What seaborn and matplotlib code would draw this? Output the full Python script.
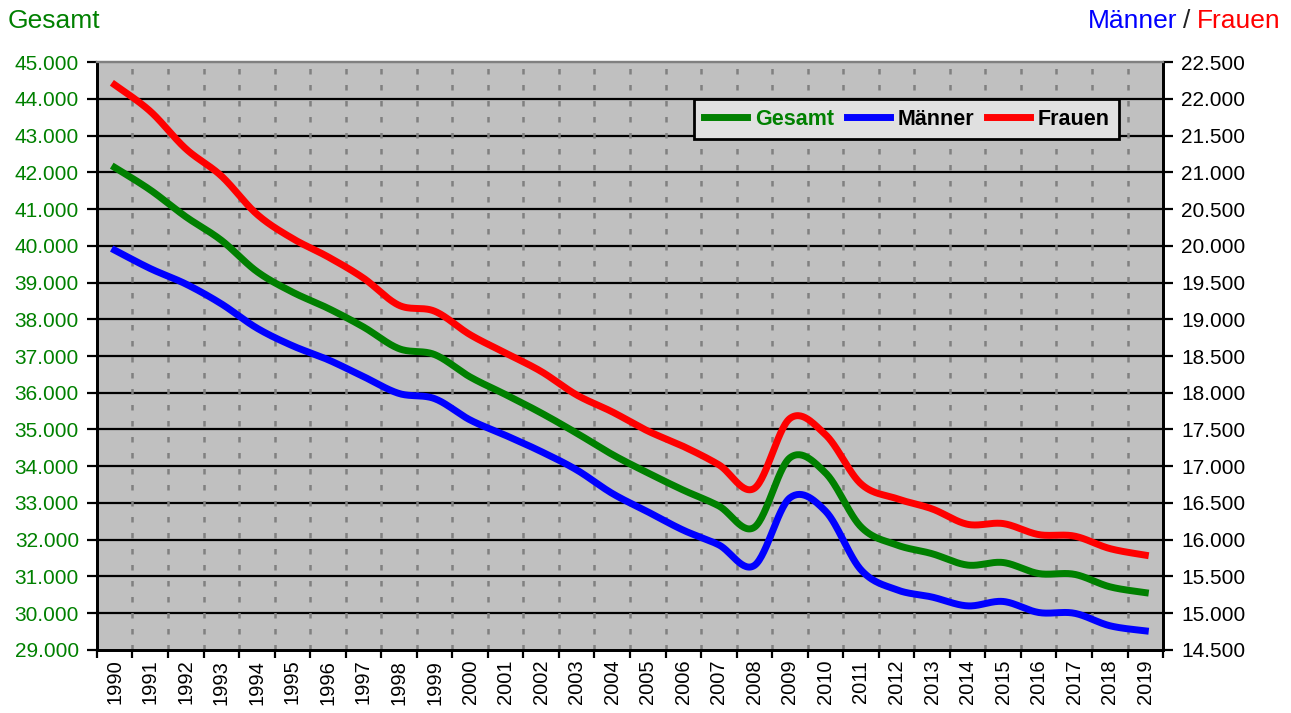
import numpy as np
import pandas as pd
import matplotlib
matplotlib.use("Agg")
import matplotlib.pyplot as plt
import seaborn as sns
from matplotlib.ticker import FixedLocator, FuncFormatter

plt.rcParams['font.family'] = ['Liberation Sans', 'DejaVu Sans']

years = list(range(1990, 2020))
gesamt = [42130, 41520, 40790, 40150, 39300, 38740, 38300, 37790, 37200, 37040,
          36430, 35950, 35450, 34900, 34320, 33820, 33350, 32920, 32340, 34230,
          33820, 32350, 31860, 31620, 31310, 31380, 31080, 31060, 30720, 30560]
maenner = [19940, 19690, 19480, 19210, 18880, 18640, 18450, 18220, 17990, 17920,
           17630, 17420, 17200, 16950, 16630, 16380, 16130, 15930, 15650, 16570,
           16390, 15590, 15320, 15220, 15100, 15160, 15010, 15000, 14830, 14760]
frauen = [22190, 21830, 21320, 20950, 20430, 20100, 19850, 19560, 19190, 19110,
          18790, 18540, 18290, 17970, 17740, 17480, 17270, 17020, 16700, 17650,
          17430, 16760, 16560, 16420, 16210, 16220, 16070, 16050, 15880, 15790]

GREEN = '#008000'
BLUE = '#0000ff'
RED = '#ff0000'


def smooth(values, steps=30):
    # excel-like smoothed line (catmull-rom bezier through the points)
    p = np.column_stack([np.arange(len(values), dtype=float), np.asarray(values, float)])
    ext = np.vstack([p[0], p, p[-1]])
    out = []
    for i in range(len(p) - 1):
        p0, p1, p2, p3 = ext[i], ext[i + 1], ext[i + 2], ext[i + 3]
        c1 = p1 + (p2 - p0) / 6
        c2 = p2 - (p3 - p1) / 6
        t = np.linspace(0, 1, steps, endpoint=(i == len(p) - 2))[:, None]
        out.append((1 - t) ** 3 * p1 + 3 * (1 - t) ** 2 * t * c1 + 3 * (1 - t) * t ** 2 * c2 + t ** 3 * p2)
    out = np.vstack(out)
    return pd.DataFrame({'x': out[:, 0], 'y': out[:, 1]})


def de_fmt(v, pos):
    return f"{v:,.0f}".replace(",", ".")


fig = plt.figure(figsize=(12.91, 7.13), dpi=100)
ax = fig.add_axes([0.0751, 0.0884, 0.8258, 0.8246])
ax.set_facecolor('#c0c0c0')
ax2 = ax.twinx()
ax2.patch.set_visible(False)

n = len(years)
lw = 5.0
g = smooth(gesamt)
sns.lineplot(data=g, x='x', y='y', ax=ax, color=GREEN, lw=lw, sort=False,
             estimator=None, label='Gesamt', legend=False)
m = smooth(maenner)
sns.lineplot(data=m, x='x', y='y', ax=ax2, color=BLUE, lw=lw, sort=False,
             estimator=None, label='Männer', legend=False)
f = smooth(frauen)
sns.lineplot(data=f, x='x', y='y', ax=ax2, color=RED, lw=lw, sort=False,
             estimator=None, label='Frauen', legend=False)

ax.set_xlim(-0.5, n - 0.5)
ax.set_ylim(29000, 45000)
ax2.set_ylim(14500, 22500)
ax.set_xlabel('')
ax.set_ylabel('')
ax2.set_ylabel('')

# horizontal grid
ax.set_yticks(np.arange(29000, 45001, 1000))
for v in np.arange(30000, 45000, 1000):
    ax.axhline(v, color='black', lw=1.6, zorder=0.5)
# vertical dashed grid at category borders
for b in np.arange(0.5, n - 1, 1.0):
    ax.axvline(b, color='#808080', lw=1.8, ls=(0, (2.2, 4.2)), zorder=0.6)

ax.xaxis.set_major_locator(FixedLocator(np.arange(-0.5, n, 1.0)))
ax.xaxis.set_major_formatter(FuncFormatter(lambda v, p: ''))
ax.xaxis.set_minor_locator(FixedLocator(np.arange(n)))
ax.set_xticklabels([str(y) for y in years], minor=True, rotation=90, fontsize=14.5)
ax.tick_params(axis='x', which='major', length=6, width=1.6, color='black', direction='out')
ax.tick_params(axis='x', which='minor', length=0, pad=7)

ax.yaxis.set_major_formatter(FuncFormatter(de_fmt))
ax.tick_params(axis='y', length=7, width=1.6, labelsize=15, labelcolor=GREEN, pad=6)
ax2.set_yticks(np.arange(14500, 22501, 500))
ax2.yaxis.set_major_formatter(FuncFormatter(de_fmt))
ax2.tick_params(axis='y', length=7, width=1.6, labelsize=15, labelcolor='black', pad=6)

for a in (ax, ax2):
    for s in ('left', 'bottom', 'right'):
        a.spines[s].set_color('black')
        a.spines[s].set_linewidth(2)
    a.spines['top'].set_color('#808080')
    a.spines['top'].set_linewidth(1.6)

h1, l1 = ax.get_legend_handles_labels()
h2, l2 = ax2.get_legend_handles_labels()
leg = ax2.legend(h1 + h2, l1 + l2, ncol=3, loc='upper right', bbox_to_anchor=(0.9587, 0.937),
                 frameon=True, fancybox=False, facecolor='#e0e0e0', edgecolor='black',
                 framealpha=1, prop={'weight': 'bold', 'size': 15.5}, handlelength=2.0,
                 handletextpad=0.35, columnspacing=0.6, borderpad=0.45, borderaxespad=0)
leg.get_frame().set_linewidth(2)
leg.get_texts()[0].set_color(GREEN)

# titles above the two axes
fig.text(0.006, 0.97, 'Gesamt', color=GREEN, fontsize=19, ha='left', va='center')
renderer = fig.canvas.get_renderer()
inv = fig.transFigure.inverted()
gap = 6 / fig.bbox.width
xr = 0.9915
for txt, col in [('Frauen', RED), ('/', '#222222'), ('Männer', BLUE)]:
    t = fig.text(xr, 0.97, txt, color=col, fontsize=19, ha='right', va='center')
    bb = t.get_window_extent(renderer).transformed(inv)
    xr = bb.x0 - gap

fig.savefig('out.png', dpi=100)
